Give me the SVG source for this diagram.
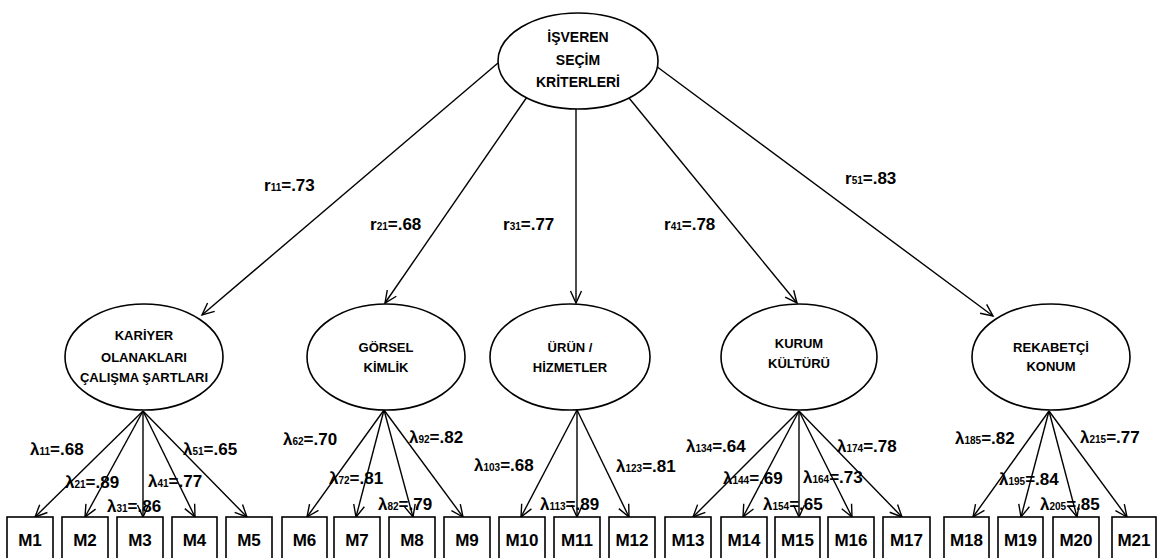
<svg xmlns="http://www.w3.org/2000/svg" width="1157" height="558" viewBox="0 0 1157 558">
<style>
.bg{fill:#fff}
.el{fill:#fff;stroke:#000;stroke-width:1.6}
.bx{fill:#fff;stroke:#000;stroke-width:1.6}
.ln{fill:none;stroke:#000;stroke-width:1.4;marker-end:url(#arr)}
.t{font-family:"Liberation Sans",Arial,sans-serif;font-weight:bold;fill:#000}
.n{font-size:13px;text-anchor:middle}
.nt{font-size:14px;text-anchor:middle}
.m{font-size:17px;text-anchor:middle}
.lb{font-size:17px}
.s{font-size:10px}
</style>
<defs>
<marker id="arr" markerWidth="16" markerHeight="14" refX="13" refY="6" orient="auto" markerUnits="userSpaceOnUse" overflow="visible">
<path d="M1,0.5 L13,6 L1,11.5" fill="none" stroke="#000" stroke-width="1.4"/>
</marker>
</defs>
<rect class="bg" x="0" y="0" width="1157" height="558"/>

<g id="connectors">
<line class="ln" x1="498" y1="63" x2="202" y2="315"/>
<line class="ln" x1="527" y1="97" x2="385" y2="303"/>
<line class="ln" x1="576" y1="109" x2="576" y2="303"/>
<line class="ln" x1="629" y1="98" x2="797" y2="303"/>
<line class="ln" x1="656" y1="66" x2="993" y2="316"/>

<line class="ln" x1="143" y1="411" x2="35" y2="517"/>
<line class="ln" x1="143" y1="411" x2="85" y2="517"/>
<line class="ln" x1="143" y1="411" x2="143" y2="517"/>
<line class="ln" x1="143" y1="411" x2="195" y2="517"/>
<line class="ln" x1="143" y1="411" x2="247" y2="517"/>

<line class="ln" x1="384" y1="410" x2="307" y2="517"/>
<line class="ln" x1="384" y1="410" x2="356" y2="517"/>
<line class="ln" x1="384" y1="410" x2="413" y2="517"/>
<line class="ln" x1="384" y1="410" x2="463" y2="517"/>

<line class="ln" x1="577" y1="410" x2="521" y2="517"/>
<line class="ln" x1="577" y1="410" x2="577" y2="517"/>
<line class="ln" x1="577" y1="410" x2="629" y2="517"/>

<line class="ln" x1="799" y1="411" x2="693" y2="517"/>
<line class="ln" x1="799" y1="411" x2="743" y2="517"/>
<line class="ln" x1="799" y1="411" x2="799" y2="517"/>
<line class="ln" x1="799" y1="411" x2="852" y2="517"/>
<line class="ln" x1="799" y1="411" x2="902" y2="517"/>

<line class="ln" x1="1049" y1="411" x2="973" y2="517"/>
<line class="ln" x1="1049" y1="411" x2="1021" y2="517"/>
<line class="ln" x1="1049" y1="411" x2="1077" y2="517"/>
<line class="ln" x1="1049" y1="411" x2="1127" y2="517"/>
</g>

<g id="labels" class="t lb">
<text x="264" y="191">r<tspan class="s">11</tspan>=.73</text>
<text x="370" y="230">r<tspan class="s">21</tspan>=.68</text>
<text x="503" y="230">r<tspan class="s">31</tspan>=.77</text>
<text x="664" y="230">r<tspan class="s">41</tspan>=.78</text>
<text x="845" y="184">r<tspan class="s">51</tspan>=.83</text>

<text x="30" y="455">λ<tspan class="s">11</tspan>=.68</text>
<text x="65" y="488">λ<tspan class="s">21</tspan>=.89</text>
<text x="107" y="512">λ<tspan class="s">31</tspan>=.86</text>
<text x="148" y="487">λ<tspan class="s">41</tspan>=.77</text>
<text x="183" y="455">λ<tspan class="s">51</tspan>=.65</text>
<text x="283" y="445">λ<tspan class="s">62</tspan>=.70</text>
<text x="329" y="484">λ<tspan class="s">72</tspan>=.81</text>
<text x="378" y="510">λ<tspan class="s">82</tspan>=.79</text>
<text x="409" y="443">λ<tspan class="s">92</tspan>=.82</text>
<text x="474" y="471">λ<tspan class="s">103</tspan>=.68</text>
<text x="540" y="510">λ<tspan class="s">113</tspan>=.89</text>
<text x="616" y="472">λ<tspan class="s">123</tspan>=.81</text>
<text x="686" y="452">λ<tspan class="s">134</tspan>=.64</text>
<text x="723" y="484">λ<tspan class="s">144</tspan>=.69</text>
<text x="763" y="510">λ<tspan class="s">154</tspan>=.65</text>
<text x="803" y="483">λ<tspan class="s">164</tspan>=.73</text>
<text x="837" y="452">λ<tspan class="s">174</tspan>=.78</text>
<text x="955" y="444">λ<tspan class="s">185</tspan>=.82</text>
<text x="999" y="485">λ<tspan class="s">195</tspan>=.84</text>
<text x="1040" y="510">λ<tspan class="s">205</tspan>=.85</text>
<text x="1080" y="443">λ<tspan class="s">215</tspan>=.77</text>
</g>

<g id="n-top">
<ellipse class="el" cx="578" cy="61" rx="80" ry="48"/>
<text class="t nt" x="578" y="42">İŞVEREN</text>
<text class="t nt" x="578" y="65">SEÇİM</text>
<text class="t nt" x="578" y="87">KRİTERLERİ</text>
</g>
<g id="n-kariyer">
<ellipse class="el" cx="144" cy="357" rx="79" ry="53"/>
<text class="t n" x="144" y="340">KARİYER</text>
<text class="t n" x="144" y="362">OLANAKLARI</text>
<text class="t n" x="144" y="382">ÇALIŞMA ŞARTLARI</text>
</g>
<g id="n-gorsel">
<ellipse class="el" cx="386" cy="357" rx="79" ry="53"/>
<text class="t n" x="386" y="352">GÖRSEL</text>
<text class="t n" x="386" y="372">KİMLİK</text>
</g>
<g id="n-urun">
<ellipse class="el" cx="570" cy="357" rx="80" ry="53"/>
<text class="t n" x="570" y="352">ÜRÜN /</text>
<text class="t n" x="570" y="372">HİZMETLER</text>
</g>
<g id="n-kurum">
<ellipse class="el" cx="799" cy="357" rx="78" ry="53"/>
<text class="t n" x="799" y="348">KURUM</text>
<text class="t n" x="799" y="368">KÜLTÜRÜ</text>
</g>
<g id="n-rekabet">
<ellipse class="el" cx="1051" cy="357" rx="79" ry="53"/>
<text class="t n" x="1051" y="352">REKABETÇİ</text>
<text class="t n" x="1051" y="371">KONUM</text>
</g>

<g id="m1"><rect class="bx" x="7" y="517" width="46" height="48"/><text class="t m" x="30" y="546">M1</text></g>
<g id="m2"><rect class="bx" x="62" y="517" width="46" height="48"/><text class="t m" x="85" y="546">M2</text></g>
<g id="m3"><rect class="bx" x="117" y="517" width="46" height="48"/><text class="t m" x="140" y="546">M3</text></g>
<g id="m4"><rect class="bx" x="172" y="517" width="45" height="48"/><text class="t m" x="194.5" y="546">M4</text></g>
<g id="m5"><rect class="bx" x="226" y="517" width="46" height="48"/><text class="t m" x="249" y="546">M5</text></g>
<g id="m6"><rect class="bx" x="282" y="517" width="45" height="48"/><text class="t m" x="304.5" y="546">M6</text></g>
<g id="m7"><rect class="bx" x="334" y="517" width="46" height="48"/><text class="t m" x="357" y="546">M7</text></g>
<g id="m8"><rect class="bx" x="389" y="517" width="46" height="48"/><text class="t m" x="412" y="546">M8</text></g>
<g id="m9"><rect class="bx" x="444" y="517" width="46" height="48"/><text class="t m" x="467" y="546">M9</text></g>
<g id="m10"><rect class="bx" x="499" y="517" width="46" height="48"/><text class="t m" x="522" y="546">M10</text></g>
<g id="m11"><rect class="bx" x="554" y="517" width="46" height="48"/><text class="t m" x="577" y="546">M11</text></g>
<g id="m12"><rect class="bx" x="609" y="517" width="46" height="48"/><text class="t m" x="632" y="546">M12</text></g>
<g id="m13"><rect class="bx" x="665" y="517" width="46" height="48"/><text class="t m" x="688" y="546">M13</text></g>
<g id="m14"><rect class="bx" x="721" y="517" width="46" height="48"/><text class="t m" x="744" y="546">M14</text></g>
<g id="m15"><rect class="bx" x="775" y="517" width="45" height="48"/><text class="t m" x="797.5" y="546">M15</text></g>
<g id="m16"><rect class="bx" x="828" y="517" width="46" height="48"/><text class="t m" x="851" y="546">M16</text></g>
<g id="m17"><rect class="bx" x="883" y="517" width="47" height="48"/><text class="t m" x="906.5" y="546">M17</text></g>
<g id="m18"><rect class="bx" x="944" y="517" width="45" height="48"/><text class="t m" x="966.5" y="546">M18</text></g>
<g id="m19"><rect class="bx" x="998" y="517" width="45" height="48"/><text class="t m" x="1020.5" y="546">M19</text></g>
<g id="m20"><rect class="bx" x="1053" y="517" width="46" height="48"/><text class="t m" x="1076" y="546">M20</text></g>
<g id="m21"><rect class="bx" x="1112" y="517" width="44" height="48"/><text class="t m" x="1134" y="546">M21</text></g>
</svg>
